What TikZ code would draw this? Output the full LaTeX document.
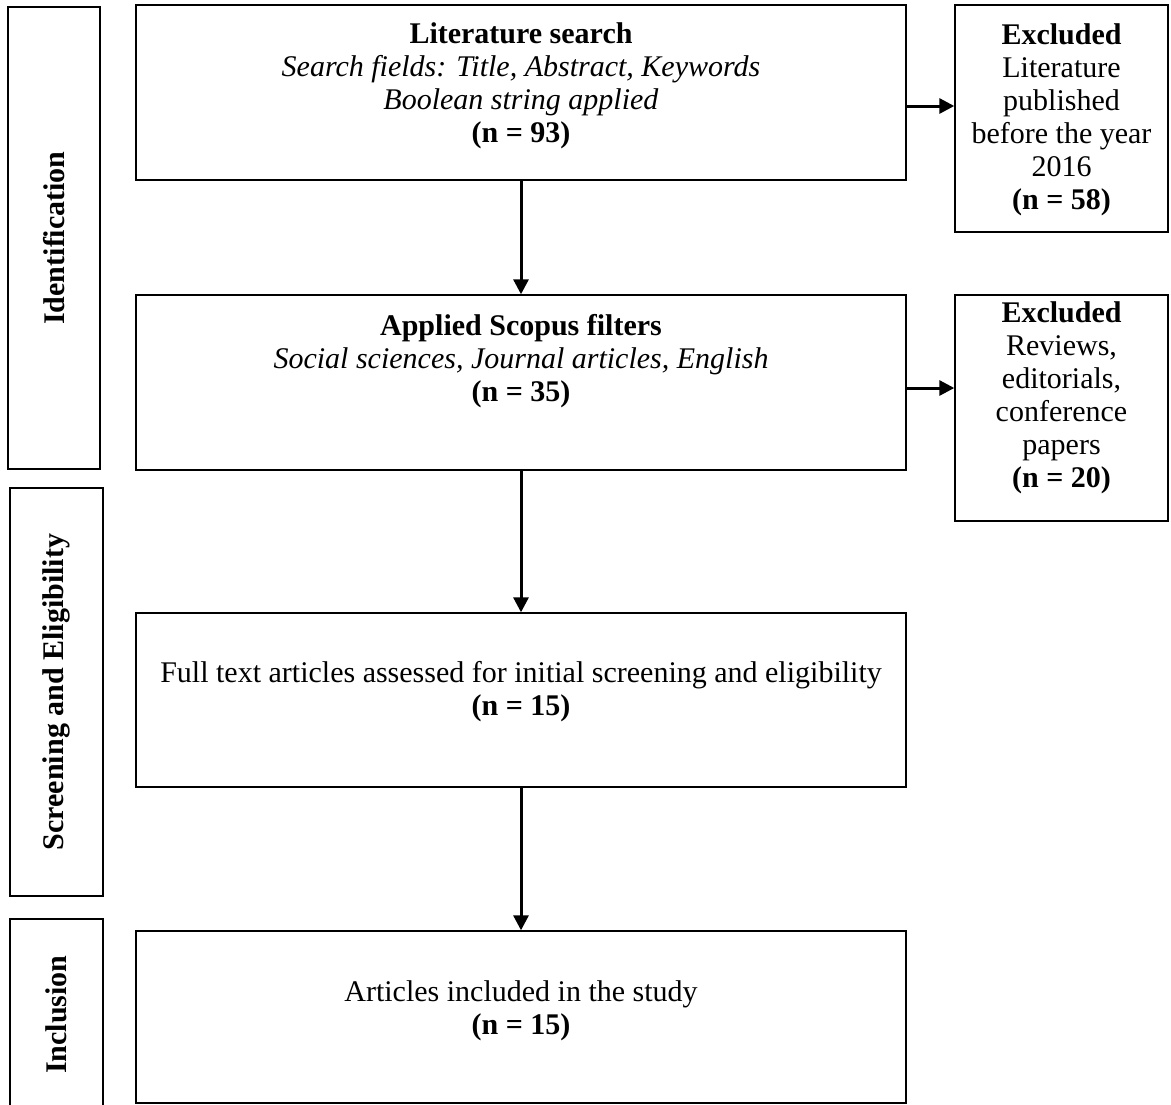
\documentclass[tikz,border=0pt]{standalone}
\usepackage{fontspec}
\setmainfont{Liberation Serif}
\usepackage{tikz}
\usetikzlibrary{arrows.meta,positioning}

\tikzset{
  stagebox/.style={draw, line width=0.7pt, rotate=90, minimum height=46pt,
    inner sep=0pt, font=\fontsize{15}{16.5}\selectfont\bfseries},
  flowbox/.style={draw, line width=0.7pt, minimum width=385pt, inner sep=0pt},
  exclbox/.style={draw, line width=0.7pt, minimum width=106.5pt, inner sep=0pt},
  boxtext/.style={align=center, inner sep=0pt, font=\fontsize{15}{16.5}\selectfont},
  flowarrow/.style={line width=1.5pt, -{Triangle[length=7.5pt,width=7.5pt]}}
}

\begin{document}
\begin{tikzpicture}[x=0.5pt, y=-0.5pt]
    \useasboundingbox (0,0) rectangle (1171,1104);

    % stages on the left
    \node[stagebox, minimum width=231pt] (ident) at (54,238) {Identification};
    \node[stagebox, minimum width=204pt, minimum height=46.5pt] (screen) at (56.5,692) {Screening and Eligibility};
    \node[stagebox, minimum width=95.5pt, minimum height=46.5pt] (incl) at (56.5,1014.5) {Inclusion};

    % main flow
    \node[flowbox, minimum height=87.5pt] (search) at (521,92.5) {};
    \node[boxtext] (searchtxt) at (521,86) {%
      \textbf{Literature search}\\
      \textit{Search fields: Title, Abstract, Keywords}\\
      \textit{Boolean string applied}\\
      \textbf{(n = 93)}};

    \node[flowbox, minimum height=87.5pt] (filters) at (521,382.5) {};
    \node[boxtext] (filterstxt) at (521,361) {%
      \textbf{Applied Scopus filters}\\
      \textit{Social sciences, Journal articles, English}\\
      \textbf{(n = 35)}};

    \node[flowbox, minimum height=87pt] (fulltext) at (521,700) {};
    \node[boxtext] (fulltexttxt) at (521,692) {%
      Full text articles assessed for initial screening and eligibility\\
      \textbf{(n = 15)}};

    \node[flowbox, minimum height=86pt] (included) at (521,1017) {};
    \node[boxtext] (includedtxt) at (521,1011) {%
      Articles included in the study\\
      \textbf{(n = 15)}};

    % excluded records
    \node[exclbox, minimum height=113.5pt] (excla) at (1061.5,118.5) {};
    \node[boxtext] (exclatxt) at (1061.5,120) {%
      \textbf{Excluded}\\
      Literature\\
      published\\
      before the year\\
      2016\\
      \textbf{(n = 58)}};

    \node[exclbox, minimum height=113pt] (exclb) at (1061.5,408) {};
    \node[boxtext] (exclbtxt) at (1061.5,398) {%
      \textbf{Excluded}\\
      Reviews,\\
      editorials,\\
      conference\\
      papers\\
      \textbf{(n = 20)}};

    % arrows
    \draw[flowarrow] (search) -- (filters);
    \draw[flowarrow] (filters) -- (fulltext);
    \draw[flowarrow] (fulltext) -- (included);
    \draw[flowarrow] ([yshift=-6.75pt]search.east) coordinate (outa) -- (outa -| excla.west);
    \draw[flowarrow] ([yshift=-2.75pt]filters.east) coordinate (outb) -- (outb -| exclb.west);
\end{tikzpicture}
\end{document}
